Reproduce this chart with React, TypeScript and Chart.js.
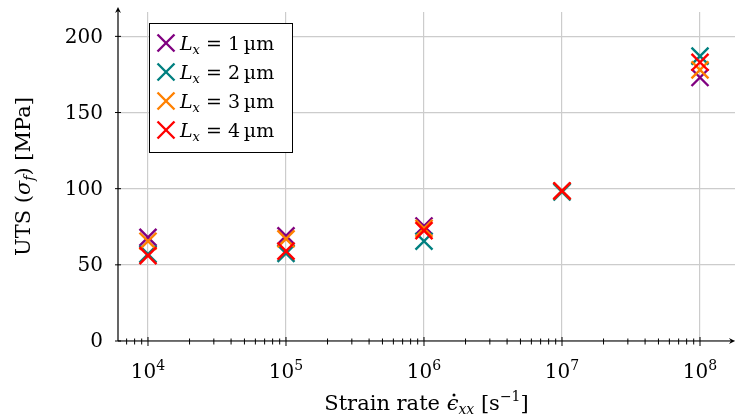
import { useEffect, useRef } from 'react';
import { Chart, registerables } from 'chart.js';

Chart.register(...registerables);

// Strain rates (s^-1) and ultimate tensile strength (MPa) for each sample length L_x
const strainRates = [1e4, 1e5, 1e6, 1e7, 1e8];
const utsL1 = [68, 69, 75.5, 98.5, 173];
const utsL2 = [57, 57.5, 65.5, 97.8, 187];
const utsL3 = [65.5, 67, 74, 98.5, 178];
const utsL4 = [56, 59, 72.5, 98.5, 183];
const lengthLabels = ['1', '2', '3', '4'];
const seriesColors = ['#800080', '#008080', '#ff8000', '#ff0000'];
const yTickValues = [0, 50, 100, 150, 200];
const xDecades = [4, 5, 6, 7, 8];

const FONT = '"DejaVu Serif"';
const BASE = 19;
const TICK = 20;
const SMALL = 13;

type Seg = { t: string; it?: boolean; sz?: number; dy?: number; dot?: boolean };

function segFont(s: Seg, base: number) {
  return `${s.it ? 'italic ' : ''}${s.sz ?? base}px ${FONT}`;
}

function measureSegs(ctx: CanvasRenderingContext2D, segs: Seg[], base = BASE) {
  let w = 0;
  for (const s of segs) {
    ctx.font = segFont(s, base);
    w += ctx.measureText(s.t).width;
  }
  return w;
}

function drawSegs(ctx: CanvasRenderingContext2D, segs: Seg[], x: number, y: number, base = BASE) {
  let cx = x;
  ctx.textAlign = 'left';
  ctx.textBaseline = 'alphabetic';
  for (const s of segs) {
    ctx.font = segFont(s, base);
    const w = ctx.measureText(s.t).width;
    ctx.fillText(s.t, cx, y + (s.dy ?? 0));
    if (s.dot) {
      ctx.beginPath();
      ctx.arc(cx + w * 0.62, y - base * 0.72, 1.5, 0, Math.PI * 2);
      ctx.fill();
    }
    cx += w;
  }
}

function drawCross(ctx: CanvasRenderingContext2D, x: number, y: number, color: string) {
  const r = 12 * Math.SQRT1_2;
  ctx.save();
  ctx.strokeStyle = color;
  ctx.lineWidth = 2.4;
  ctx.beginPath();
  ctx.moveTo(x - r, y - r);
  ctx.lineTo(x + r, y + r);
  ctx.moveTo(x + r, y - r);
  ctx.lineTo(x - r, y + r);
  ctx.stroke();
  ctx.restore();
}

const decorations = {
  id: 'decorations',
  afterDatasetsDraw(chart: any) {
    const ctx: CanvasRenderingContext2D = chart.ctx;
    const xs = chart.scales.x;
    const ys = chart.scales.y;
    const area = chart.chartArea;
    const x0 = area.left;
    const y0 = ys.getPixelForValue(0);
    ctx.save();
    ctx.fillStyle = '#000';
    ctx.strokeStyle = '#000';
    ctx.lineWidth = 1.2;

    // axis lines
    ctx.beginPath();
    ctx.moveTo(x0, y0);
    ctx.lineTo(x0, area.top - 2);
    ctx.moveTo(x0, y0);
    ctx.lineTo(area.right - 3, y0);
    ctx.stroke();

    // arrow heads
    ctx.beginPath();
    ctx.moveTo(x0, area.top - 5);
    ctx.lineTo(x0 - 3, area.top + 1);
    ctx.lineTo(x0, area.top - 1);
    ctx.lineTo(x0 + 3, area.top + 1);
    ctx.closePath();
    ctx.fill();
    ctx.beginPath();
    ctx.moveTo(area.right, y0);
    ctx.lineTo(area.right - 6, y0 - 3);
    ctx.lineTo(area.right - 4, y0);
    ctx.lineTo(area.right - 6, y0 + 3);
    ctx.closePath();
    ctx.fill();

    // y ticks and labels
    ctx.lineWidth = 1;
    for (const v of yTickValues) {
      const py = ys.getPixelForValue(v);
      ctx.beginPath();
      ctx.moveTo(x0 - 3, py);
      ctx.lineTo(x0 + 3, py);
      ctx.stroke();
      ctx.font = `${TICK}px ${FONT}`;
      ctx.textAlign = 'right';
      ctx.textBaseline = 'middle';
      ctx.fillText(String(v), 103, py + 1);
    }

    // x major / minor ticks
    for (let e = 3; e <= 8; e++) {
      for (let m = 1; m <= 9; m++) {
        const v = m * Math.pow(10, e);
        if (v < xs.min || v > xs.max) continue;
        const px = xs.getPixelForValue(v);
        ctx.beginPath();
        if (m === 1) {
          ctx.moveTo(px, y0 - 4);
          ctx.lineTo(px, y0 + 5);
        } else {
          ctx.moveTo(px, y0 - 2.5);
          ctx.lineTo(px, y0 + 3.5);
        }
        ctx.stroke();
      }
    }

    // x tick labels 10^n
    for (const e of xDecades) {
      const px = xs.getPixelForValue(Math.pow(10, e));
      const segs: Seg[] = [{ t: '10' }, { t: String(e), sz: 14, dy: -8 }];
      const w = measureSegs(ctx, segs, TICK);
      drawSegs(ctx, segs, px - w / 2, 378, TICK);
    }

    // x axis title
    const TB = 21;
    const xTitle: Seg[] = [
      { t: 'Strain rate ' },
      { t: 'ϵ', it: true, dot: true },
      { t: 'xx', it: true, sz: 14, dy: 4 },
      { t: ' [s' },
      { t: '−1', sz: 14, dy: -9 },
      { t: ']' },
    ];
    const xtw = measureSegs(ctx, xTitle, TB);
    drawSegs(ctx, xTitle, (area.left + area.right) / 2 - xtw / 2, 410, TB);

    // y axis title
    const yTitle: Seg[] = [
      { t: 'UTS (' },
      { t: 'σ', it: true },
      { t: 'f', it: true, sz: 14, dy: 4 },
      { t: ') [MPa]' },
    ];
    const ytw = measureSegs(ctx, yTitle, TB);
    ctx.save();
    ctx.translate(30, (area.top + area.bottom) / 2);
    ctx.rotate(-Math.PI / 2);
    drawSegs(ctx, yTitle, -ytw / 2, 0, TB);
    ctx.restore();

    // legend
    const lx = 149.5;
    const ly = 23.5;
    ctx.fillStyle = '#fff';
    ctx.fillRect(lx, ly, 143, 129);
    ctx.strokeStyle = '#000';
    ctx.lineWidth = 1;
    ctx.strokeRect(lx, ly, 143, 129);
    ctx.fillStyle = '#000';
    lengthLabels.forEach((lab, i) => {
      const cy = 43 + i * 29;
      drawCross(ctx, 166, cy, seriesColors[i]);
      const segs: Seg[] = [
        { t: 'L', it: true },
        { t: 'x', it: true, sz: SMALL, dy: 4 },
        { t: ' = ' + lab + '\u2009µm' },
      ];
      drawSegs(ctx, segs, 180, cy + 7);
    });

    ctx.restore();
  },
};

export default function App() {
  const ref = useRef<HTMLCanvasElement>(null);

  useEffect(() => {
    if (!ref.current) return;
    const series = [utsL1, utsL2, utsL3, utsL4];
    const chart = new Chart(ref.current, {
      type: 'scatter',
      data: {
        datasets: series.map((vals, i) => ({
          label: `L_x = ${lengthLabels[i]} µm`,
          data: strainRates.map((x, j) => ({ x, y: vals[j] })),
          // later series are drawn on top
          order: series.length - i,
          pointStyle: 'crossRot',
          pointRadius: 12,
          pointHoverRadius: 12,
          borderWidth: 2.4,
          pointBorderWidth: 2.4,
          borderColor: seriesColors[i],
          backgroundColor: seriesColors[i],
        })),
      },
      options: {
        responsive: false,
        animation: false,
        events: [],
        layout: { autoPadding: false, padding: { left: 118, right: 0, top: 12, bottom: 77 } },
        plugins: { legend: { display: false }, tooltip: { enabled: false } },
        scales: {
          x: {
            type: 'logarithmic',
            min: 6063,
            max: 1.793e8,
            afterBuildTicks: (scale: any) => {
              scale.ticks = xDecades.map((e) => ({ value: Math.pow(10, e) }));
            },
            ticks: { display: false },
            grid: { color: '#cccccc', lineWidth: 1.2, drawTicks: false },
            border: { display: false },
          },
          y: {
            min: 0,
            max: 216,
            afterBuildTicks: (scale: any) => {
              scale.ticks = yTickValues.map((v) => ({ value: v }));
            },
            ticks: { display: false },
            grid: { color: '#cccccc', lineWidth: 1.2, drawTicks: false },
            border: { display: false },
          },
        },
      },
      plugins: [decorations],
    });
    return () => chart.destroy();
  }, []);

  return (
    <div style={{ position: 'absolute', left: 0, top: 0, width: 735, height: 418, background: '#fff' }}>
      <canvas ref={ref} width={735} height={418} />
    </div>
  );
}
